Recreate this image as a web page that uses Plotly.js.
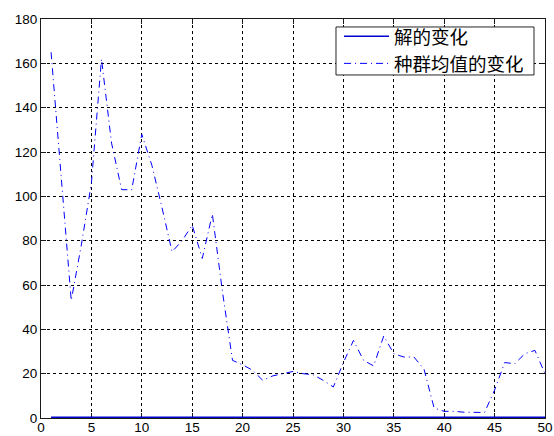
<!DOCTYPE html>
<html>
<head>
<meta charset="utf-8">
<script src="https://cdn.plot.ly/plotly-3.0.1.min.js"></script>
<style>html,body{margin:0;padding:0;background:#fff;}#chart{width:554px;height:436px;}</style>
</head>
<body>
<div id="chart"></div>
<script>
const generations = [1,2,3,4,5,6,7,8,9,10,11,12,13,14,15,16,17,18,19,20,21,22,23,24,25,26,27,28,29,30,31,32,33,34,35,36,37,38,39,40,41,42,43,44,45,46,47,48,49,50];
const solutionValues = [0.3,0.3,0.3,0.3,0.3,0.3,0.3,0.3,0.3,0.3,0.3,0.3,0.3,0.3,0.3,0.3,0.3,0.3,0.3,0.3,0.3,0.3,0.3,0.3,0.3,0.3,0.3,0.3,0.3,0.3,0.3,0.3,0.3,0.3,0.3,0.3,0.3,0.3,0.3,0.3,0.3,0.3,0.3,0.3,0.3,0.3,0.3,0.3,0.3,0.3];
const meanValues = [165,110,53,78,106,162,124,103,103,128,114,95,75,80,87,72,92,57,26,24,21.5,17,19,20,21,20,19.5,17,14,25,35,26,23.5,37,29,27.5,27.5,22,4.5,3,3,2.6,2.5,2.5,12.6,25,24.5,29,30.5,20];
const xTicks = [0,5,10,15,20,25,30,35,40,45,50];
const yTicks = [0,20,40,60,80,100,120,140,160,180];
const seriesNames = ['解的变化','种群均值的变化'];

const axisCommon = {
  showline: true, linecolor: '#1a1a1a', linewidth: 1, mirror: 'ticks',
  ticks: 'inside', ticklen: 5, tickcolor: '#1a1a1a', tickwidth: 1,
  showgrid: true, gridcolor: '#000', gridwidth: 1, griddash: '3px,3px',
  zeroline: false, tickmode: 'array', layer: 'below traces',
  tickfont: {family: 'Liberation Sans, Arial, sans-serif', size: 13.5, color: '#000'}
};

const data = [
  {x: generations, y: solutionValues, name: seriesNames[0], type: 'scatter', mode: 'lines',
   line: {color: '#0000d0', width: 1.5, dash: 'solid'}},
  {x: generations, y: meanValues, name: seriesNames[1], type: 'scatter', mode: 'lines',
   line: {color: '#0000ff', width: 1, dash: '7px,4px,1px,4px'}}
];

const layout = {
  width: 554, height: 436,
  margin: {l: 41, r: 9, t: 19, b: 18, pad: 0},
  paper_bgcolor: '#fff', plot_bgcolor: '#fff',
  showlegend: true,
  xaxis: Object.assign({}, axisCommon, {range: [0, 50], tickvals: xTicks, ticktext: xTicks.map(String), ticklabelstandoff: -3}),
  yaxis: Object.assign({}, axisCommon, {range: [0, 180], tickvals: yTicks, ticktext: yTicks.map(String)}),
  shapes: [{
    type: 'rect', xref: 'paper', yref: 'paper', layer: 'above',
    x0: 0.5853, x1: 0.9782, y0: 0.8597, y1: 0.9800,
    fillcolor: '#fff', line: {color: '#262626', width: 1}
  }],
  legend: {
    x: 0.5913, y: 1.003, xanchor: 'left', yanchor: 'top',
    bgcolor: 'rgba(0,0,0,0)', borderwidth: 0,
    font: {family: 'Noto Sans CJK SC, sans-serif', size: 18.5, color: '#000'},
    itemwidth: 45, tracegroupgap: 0
  }
};

Plotly.newPlot('chart', data, layout, {displayModeBar: false, staticPlot: true});
</script>
</body>
</html>
